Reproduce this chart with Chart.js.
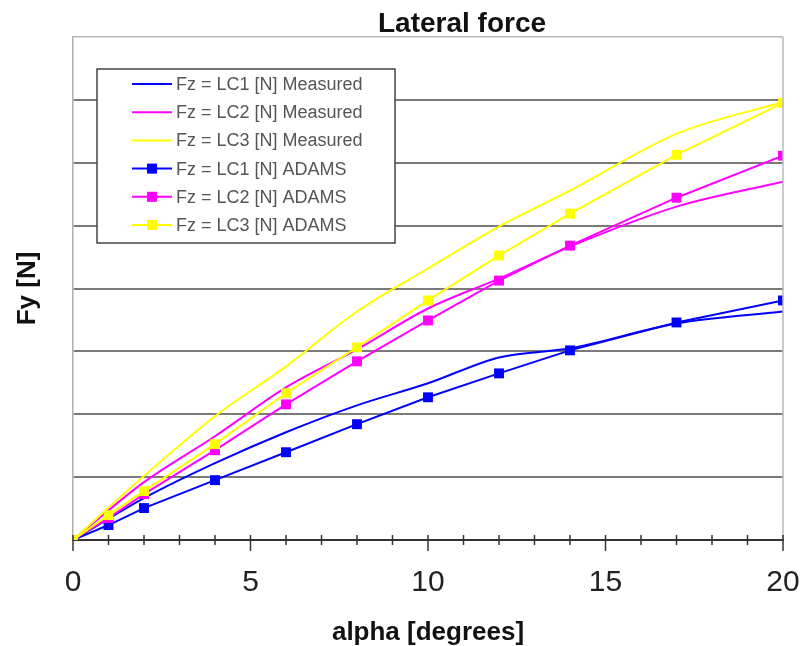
<!DOCTYPE html>
<html>
<head>
<meta charset="utf-8">
<script src="https://cdn.jsdelivr.net/npm/chart.js@4.4.1/dist/chart.umd.min.js"></script>
<style>
body { margin: 0; background: #fff; }
#wrap { width: 805px; height: 646px; }
</style>
</head>
<body>
<div id="wrap"><canvas id="forceChart" width="805" height="646"></canvas></div>
<script>
// alpha [degrees]
var alphaMeasured = [0, 2, 4, 6, 8, 10, 12, 14, 17, 20];
var alphaAdams = [0, 1, 2, 4, 6, 8, 10, 12, 14, 17, 20];

// Fy [N]
var lc1Measured = [0, 333, 611, 857, 1071, 1246, 1452, 1524, 1722, 1817];
var lc2Measured = [0, 460, 825, 1214, 1516, 1841, 2079, 2333, 2651, 2849];
var lc3Measured = [0, 508, 984, 1381, 1817, 2159, 2492, 2778, 3230, 3484];
var lc1Adams = [0, 119, 254, 476, 698, 921, 1135, 1325, 1508, 1730, 1905];
var lc2Adams = [0, 175, 365, 714, 1079, 1421, 1746, 2063, 2341, 2722, 3056];
var lc3Adams = [0, 198, 389, 762, 1167, 1532, 1905, 2262, 2595, 3063, 3476];

var seriesLabels = [
    'Fz = LC1 [N] Measured', 'Fz = LC2 [N] Measured', 'Fz = LC3 [N] Measured',
    'Fz = LC1 [N] ADAMS', 'Fz = LC2 [N] ADAMS', 'Fz = LC3 [N] ADAMS'
];
var xTicks = [0, 5, 10, 15, 20];

var BLUE = '#0000ff', MAGENTA = '#ff00ff', YELLOW = '#ffff00';

function pairs(xs, ys) {
    return xs.map(function(x, i) { return { x: x, y: ys[i] }; });
}

function measured(label, ys, color, order) {
    return {
        label: label,
        data: pairs(alphaMeasured, ys),
        borderColor: color,
        backgroundColor: color,
        borderWidth: 2,
        pointRadius: 0,
        cubicInterpolationMode: 'monotone',
        order: order
    };
}

function adams(label, ys, color, order) {
    return {
        label: label,
        data: pairs(alphaAdams, ys),
        borderColor: color,
        backgroundColor: color,
        borderWidth: 2,
        pointStyle: 'rect',
        pointRadius: 7,
        pointBorderWidth: 0,
        tension: 0,
        order: order
    };
}

// Plot frame, x tick marks, title and the boxed legend inside the plot
var decorPlugin = {
    id: 'decor',
    afterDraw: function(chart) {
        var ctx = chart.ctx;
        var area = chart.chartArea;
        var xs = chart.scales.x;

        ctx.save();
        ctx.strokeStyle = '#b8b8b8';
        ctx.lineWidth = 1.5;
        ctx.beginPath();
        ctx.moveTo(area.right, area.top);
        ctx.lineTo(area.right, area.bottom);
        ctx.stroke();

        ctx.strokeStyle = '#333';
        ctx.lineWidth = 1.5;
        for (var a = 0; a <= 20; a++) {
            var px = xs.getPixelForValue(a);
            ctx.beginPath();
            ctx.moveTo(px, area.bottom - 5);
            ctx.lineTo(px, area.bottom + (a % 5 === 0 ? 11 : 5));
            ctx.stroke();
        }

        ctx.fillStyle = '#111';
        ctx.font = 'bold 28px "Liberation Sans", Arial, sans-serif';
        ctx.textAlign = 'center';
        ctx.textBaseline = 'alphabetic';
        ctx.fillText('Lateral force', 462, 32);

        // legend
        var box = { left: 97, top: 69, right: 395, bottom: 243 };
        ctx.fillStyle = '#fff';
        ctx.fillRect(box.left, box.top, box.right - box.left, box.bottom - box.top);
        ctx.strokeStyle = '#444';
        ctx.lineWidth = 1.5;
        ctx.strokeRect(box.left, box.top, box.right - box.left, box.bottom - box.top);

        ctx.font = '18px "Liberation Sans", Arial, sans-serif';
        ctx.textAlign = 'left';
        ctx.textBaseline = 'middle';
        chart.data.datasets.forEach(function(ds, i) {
            var cy = 84 + i * 28.2;
            ctx.strokeStyle = ds.borderColor;
            ctx.lineWidth = 2;
            ctx.beginPath();
            ctx.moveTo(132, cy);
            ctx.lineTo(172, cy);
            ctx.stroke();
            if (ds.pointRadius > 0) {
                ctx.fillStyle = ds.backgroundColor;
                ctx.fillRect(147, cy - 5, 10, 10);
            }
            ctx.fillStyle = '#555';
            ctx.fillText(ds.label, 176, cy + 1);
        });
        ctx.restore();
    }
};

var ctx = document.getElementById('forceChart').getContext('2d');
var forceChart = new Chart(ctx, {
    type: 'line',
    data: {
        datasets: [
            measured(seriesLabels[0], lc1Measured, BLUE, 6),
            measured(seriesLabels[1], lc2Measured, MAGENTA, 5),
            measured(seriesLabels[2], lc3Measured, YELLOW, 4),
            adams(seriesLabels[3], lc1Adams, BLUE, 3),
            adams(seriesLabels[4], lc2Adams, MAGENTA, 2),
            adams(seriesLabels[5], lc3Adams, YELLOW, 1)
        ]
    },
    options: {
        responsive: false,
        animation: false,
        layout: { padding: { top: 37, right: 22, left: 0, bottom: 0 } },
        plugins: {
            legend: { display: false },
            title: { display: false },
            tooltip: { enabled: false }
        },
        scales: {
            x: {
                type: 'linear',
                min: 0,
                max: 20,
                afterBuildTicks: function(scale) {
                    scale.ticks = xTicks.map(function(v) { return { value: v }; });
                },
                afterFit: function(scale) {
                    scale.height = 106;
                    scale.paddingLeft = 0;
                    scale.paddingRight = 0;
                },
                grid: { drawOnChartArea: false, drawTicks: false },
                border: { display: true, color: '#333', width: 2 },
                ticks: {
                    padding: 28,
                    color: '#222',
                    font: { family: '"Liberation Sans", Arial, sans-serif', size: 30, lineHeight: 1 },
                    maxRotation: 0
                },
                title: {
                    display: true,
                    text: 'alpha [degrees]',
                    color: '#111',
                    font: { family: '"Liberation Sans", Arial, sans-serif', size: 26, weight: 'bold', lineHeight: 1 },
                    padding: { top: 0, bottom: 0 }
                }
            },
            y: {
                min: 0,
                max: 4000,
                afterFit: function(scale) { scale.width = 73; },
                ticks: { display: false, stepSize: 500 },
                grid: {
                    drawTicks: false,
                    color: function(c) {
                        if (c.tick.value === 0) return '#333';
                        if (c.tick.value === 4000) return '#b8b8b8';
                        return '#7a7a7a';
                    },
                    lineWidth: function(c) {
                        return c.tick.value === 4000 ? 1.5 : 2;
                    }
                },
                border: { display: true, color: '#b0b0b0', width: 1.5 },
                title: {
                    display: true,
                    text: 'Fy [N]',
                    color: '#111',
                    font: { family: '"Liberation Sans", Arial, sans-serif', size: 26, weight: 'bold', lineHeight: 1 },
                    padding: { top: 15, bottom: 0 }
                }
            }
        }
    },
    plugins: [decorPlugin]
});
</script>
</body>
</html>
